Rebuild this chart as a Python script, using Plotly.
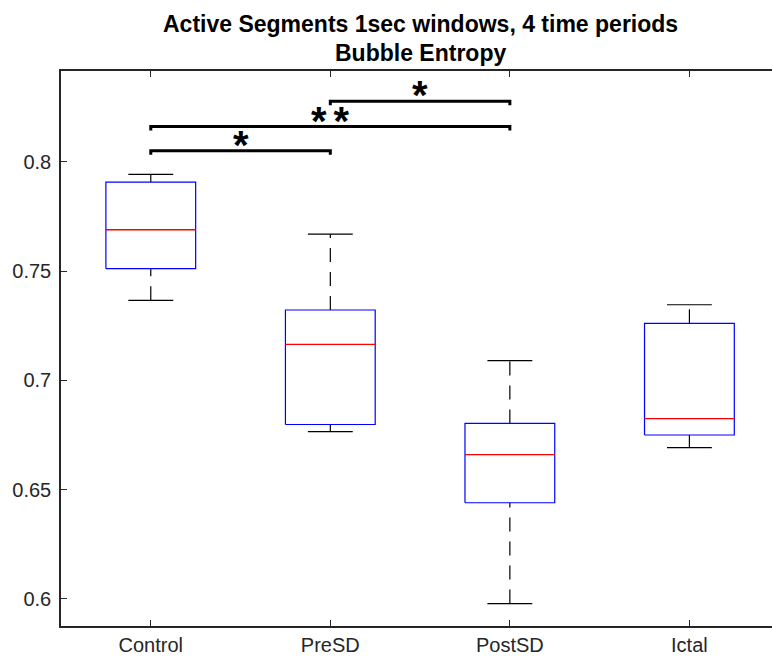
import plotly.graph_objects as go

# ---- data ----
categories = ["Control", "PreSD", "PostSD", "Ictal"]
lower_whisker = [0.7366, 0.6765, 0.5979, 0.6692]
q1 = [0.7511, 0.6798, 0.6440, 0.6750]
median = [0.7689, 0.7165, 0.6660, 0.6825]
q3 = [0.7907, 0.7322, 0.6803, 0.7261]
upper_whisker = [0.7942, 0.7669, 0.7090, 0.7346]

sig_pairs = [(0, 1), (0, 2), (1, 2)]
sig_heights = [0.8050, 0.8161, 0.8277]
sig_labels = ["*", "**", "*"]

y_tick_vals = [0.6, 0.65, 0.7, 0.75, 0.8]
y_tick_text = ["0.6", "0.65", "0.7", "0.75", "0.8"]

title_lines = ["Active Segments 1sec windows, 4 time periods", "Bubble Entropy"]

# ---- style ----
BOX_W = 0.5
CAP_W = 0.25
AX = "#262626"
FONT = "Liberation Sans, Arial, Helvetica, sans-serif"

fig = go.Figure()
positions = list(range(1, len(categories) + 1))

for i, x in enumerate(positions):
    hw = BOX_W / 2
    cw = CAP_W / 2
    # whiskers (dashed)
    fig.add_trace(go.Scatter(x=[x, x], y=[lower_whisker[i], q1[i]], mode="lines",
                             line=dict(color="black", width=1.2, dash="14px,10px"),
                             showlegend=False, hoverinfo="skip"))
    fig.add_trace(go.Scatter(x=[x, x], y=[q3[i], upper_whisker[i]], mode="lines",
                             line=dict(color="black", width=1.2, dash="14px,10px"),
                             showlegend=False, hoverinfo="skip"))
    # caps
    for v in (lower_whisker[i], upper_whisker[i]):
        fig.add_trace(go.Scatter(x=[x - cw, x + cw], y=[v, v], mode="lines",
                                 line=dict(color="black", width=1.2),
                                 showlegend=False, hoverinfo="skip"))
    # box
    fig.add_trace(go.Scatter(x=[x - hw, x + hw, x + hw, x - hw, x - hw],
                             y=[q1[i], q1[i], q3[i], q3[i], q1[i]], mode="lines",
                             line=dict(color="#0000FF", width=1.2),
                             showlegend=False, hoverinfo="skip"))
    # median
    fig.add_trace(go.Scatter(x=[x - hw, x + hw], y=[median[i], median[i]], mode="lines",
                             line=dict(color="#FF0000", width=1.3),
                             showlegend=False, hoverinfo="skip"))

# significance bars
drop = 0.0018
for (a, b), h, lab in zip(sig_pairs, sig_heights, sig_labels):
    xa, xb = positions[a], positions[b]
    fig.add_trace(go.Scatter(x=[xa, xa, xb, xb], y=[h - drop, h, h, h - drop], mode="lines",
                             line=dict(color="black", width=3),
                             showlegend=False, hoverinfo="skip"))
    if len(lab) > 1:
        txt = '<span style="letter-spacing:7px">' + lab + '</span>'
        xs = 3
    else:
        txt = lab
        xs = 0
    fig.add_annotation(x=(xa + xb) / 2, y=h, xref="x", yref="y", text=txt,
                       showarrow=False, yanchor="middle", xanchor="center",
                       yshift=6, xshift=xs,
                       font=dict(family=FONT, size=40, color="black", weight="bold"))

# title lines
fig.add_annotation(x=0.5, y=1.0848, xref="paper", yref="paper", text=title_lines[0],
                   showarrow=False, yanchor="middle", xanchor="center", xshift=4,
                   font=dict(family=FONT, size=23, color="black", weight="bold"))
fig.add_annotation(x=0.5, y=1.0318, xref="paper", yref="paper", text=title_lines[1],
                   showarrow=False, yanchor="middle", xanchor="center", xshift=4,
                   font=dict(family=FONT, size=23, color="black", weight="bold"))

fig.update_layout(
    width=772, height=657,
    margin=dict(l=61, r=0, t=71, b=31, autoexpand=False),
    paper_bgcolor="white", plot_bgcolor="white",
    font=dict(family=FONT, size=20, color=AX),
    xaxis=dict(range=[0.5, 4.46], tickvals=positions, ticktext=categories,
               automargin=False,
               showgrid=False, zeroline=False, showline=True, linecolor=AX, linewidth=1.5,
               mirror="ticks", ticks="inside", ticklen=6, tickwidth=1.3, tickcolor=AX,
               ticklabelstandoff=0,
               tickfont=dict(family=FONT, size=20, color=AX)),
    yaxis=dict(range=[0.58762, 0.84153], tickvals=y_tick_vals, ticktext=y_tick_text,
               automargin=False,
               showgrid=False, zeroline=False, showline=True, linecolor=AX, linewidth=1.5,
               mirror=False, ticks="inside", ticklen=6, tickwidth=1.3, tickcolor=AX,
               ticklabelstandoff=4,
               tickfont=dict(family=FONT, size=20, color=AX)),
)

fig.write_html("out.html")
